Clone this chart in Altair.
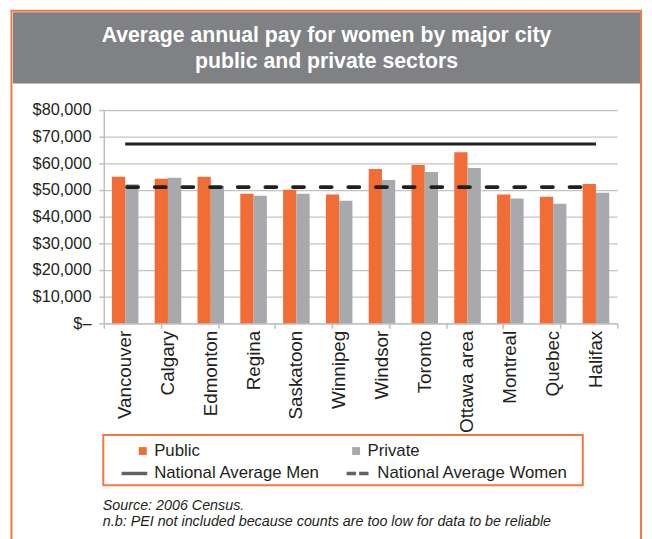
import altair as alt
import pandas as pd

# ---------------- data ----------------
cities = ["Vancouver", "Calgary", "Edmonton", "Regina", "Saskatoon", "Winnipeg",
          "Windsor", "Toronto", "Ottawa area", "Montreal", "Quebec", "Halifax"]
public_pay = [55000, 54200, 55000, 48600, 50100, 48300, 57900, 59400, 64200, 48300, 47500, 52300]
private_pay = [52200, 54600, 51500, 47900, 48600, 46000, 53800, 56800, 58300, 46800, 44900, 49000]
sectors = ["Public", "Private"]
series = ["National Average Men", "National Average Women"]
national_men = 67300
national_women = 51100
y_ticks = [0, 10000, 20000, 30000, 40000, 50000, 60000, 70000, 80000]
x_tick_marks = [0, 1, 2, 3, 4, 5, 6, 7, 8, 9]
title_lines = ["Average annual pay for women by major city", "public and private sectors"]
notes = ["Source: 2006 Census.",
         "n.b: PEI not included because counts are too low for data to be reliable"]

# ---------------- styles ----------------
ORANGE = "#F26D36"
GRAY = "#A7A9AC"
DARK = "#231F20"
FRAME = "#F07842"
HEADER = "#808184"
AXIS = "#BCBEC0"
GRID = "#C4C4C4"
FONT = "Liberation Sans"
MEN_PATH = "M-1,0H1"
WOMEN_PATH = "M-0.85,0H-0.12M0.12,0H0.85"

bars_df = pd.DataFrame({
    "city": cities * 2,
    "sector": [sectors[0]] * len(cities) + [sectors[1]] * len(cities),
    "pay": public_pay + private_pay,
})
lines_df = pd.DataFrame({
    "city": cities,
    "men": [national_men] * len(cities),
    "women": [national_women] * len(cities),
})
legend_df = pd.DataFrame({"series": series})
one = pd.DataFrame({"k": [0]})
ticks_df = pd.DataFrame({"t": [x_tick_marks[0], x_tick_marks[-1]]})

x_scale = alt.Scale(domain=cities, paddingInner=0.38, paddingOuter=0.19)
y_scale = alt.Scale(domain=[0, 80000], nice=False)
x_axis = alt.Axis(title=None, labelAngle=-90, ticks=False, labelPadding=7,
                  labelFontSize=19, labelFont=FONT, labelColor=DARK,
                  domainColor=AXIS, domainWidth=1.5, grid=False)
y_axis = alt.Axis(title=None, values=y_ticks,
                  labelExpr="datum.value == 0 ? '$\u2013' : '$' + format(datum.value, ',')",
                  labelFontSize=16.5, labelFont=FONT, labelColor=DARK, labelPadding=8,
                  domainColor=AXIS, domainWidth=1.5, tickColor=AXIS, tickWidth=1.5,
                  tickSize=5, grid=True, gridColor=GRID, gridWidth=1.2)

x_enc = alt.X("city:N", scale=x_scale, sort=cities, axis=x_axis)

# ---------------- decorations ----------------
frame = alt.Chart(one).mark_rect(fillOpacity=0, stroke=FRAME, strokeWidth=2).encode(
    x=alt.value(-93.5), x2=alt.value(544), y=alt.value(-100.5), y2=alt.value(470))
header = alt.Chart(one).mark_rect(fill=HEADER).encode(
    x=alt.value(-92), x2=alt.value(543), y=alt.value(-99), y2=alt.value(-27))
title = alt.Chart(one).mark_text(
    font=FONT, fontSize=21.5, fontWeight="bold", color="white", lineBreak="\n",
    lineHeight=26, align="center", baseline="middle").encode(
    x=alt.value(225.5), y=alt.value(-75), text=alt.value("\n".join(title_lines)))
legend_box = alt.Chart(one).mark_rect(fillOpacity=0, stroke=FRAME, strokeWidth=2).encode(
    x=alt.value(-0.5), x2=alt.value(485), y=alt.value(329), y2=alt.value(380))
note1 = alt.Chart(one).mark_text(
    font=FONT, fontSize=14.5, fontStyle="italic", color=DARK, align="left",
    baseline="middle").encode(x=alt.value(-1), y=alt.value(401), text=alt.value(notes[0]))
note2 = alt.Chart(one).mark_text(
    font=FONT, fontSize=14.5, fontStyle="italic", color=DARK, align="left",
    baseline="middle").encode(x=alt.value(-1), y=alt.value(417), text=alt.value(notes[1]))

# ---------------- data marks ----------------
bars = alt.Chart(bars_df).mark_bar().encode(
    x=x_enc,
    y=alt.Y("pay:Q", scale=y_scale, axis=y_axis),
    xOffset=alt.XOffset("sector:N", sort=sectors,
                        scale=alt.Scale(domain=sectors, paddingInner=0, paddingOuter=0)),
    color=alt.Color("sector:N", scale=alt.Scale(domain=sectors, range=[ORANGE, GRAY]),
                    legend=alt.Legend(orient="none", legendX=31, legendY=336.5,
                                      direction="horizontal", columns=2, title=None,
                                      symbolType="square", symbolSize=64,
                                      symbolStrokeWidth=0, labelOffset=3,
                                      columnPadding=149, padding=0, labelLimit=400,
                                      labelFontSize=17, labelFont=FONT,
                                      labelColor=DARK)),
)
men_line = alt.Chart(lines_df).mark_line(color=DARK, strokeWidth=3).encode(
    x=x_enc, y=alt.Y("men:Q", scale=y_scale, axis=y_axis))
women_line = alt.Chart(lines_df).mark_line(
    color=DARK, strokeWidth=4, strokeDash=[11, 17], strokeCap="round",
    strokeDashOffset=-2).encode(
    x=x_enc, y=alt.Y("women:Q", scale=y_scale, axis=y_axis))

line_legend = alt.Chart(legend_df).transform_filter("false").mark_point(
    filled=False, color=DARK, stroke=DARK, strokeWidth=3.5, size=676).encode(
    shape=alt.Shape("series:N",
                    scale=alt.Scale(domain=series, range=[MEN_PATH, WOMEN_PATH]),
                    legend=alt.Legend(orient="none", legendX=16, legendY=353,
                                      direction="horizontal", columns=2, title=None,
                                      symbolSize=676, symbolStrokeWidth=3.5,
                                      symbolStrokeColor=DARK,
                                      symbolFillColor="transparent",
                                      labelOffset=5, columnPadding=19, padding=0,
                                      labelLimit=400,
                                      labelFontSize=17, labelFont=FONT,
                                      labelColor=DARK)))

inner = alt.layer(frame, header, title, legend_box, note1, note2,
                  bars, men_line, women_line, line_legend)

tick_layer = alt.Chart(ticks_df).mark_rule(opacity=0).encode(
    x=alt.X("t:Q", scale=alt.Scale(domain=[x_tick_marks[0], x_tick_marks[-1]], nice=False, zero=False),
            axis=alt.Axis(orient="bottom", values=x_tick_marks, labels=False, domain=False,
                          grid=False, ticks=True, tickSize=5, tickColor=AXIS,
                          tickWidth=1.5, title=None)))

chart = alt.layer(inner, tick_layer).resolve_scale(x="independent").properties(
    width=520, height=216,
    padding={"left": 97, "top": 100, "right": 27, "bottom": 215},
    autosize=alt.AutoSizeParams(type="none"),
    background="white",
).configure_view(stroke=None)

chart.save("out.html", embed_options={"renderer": "svg", "actions": False})
